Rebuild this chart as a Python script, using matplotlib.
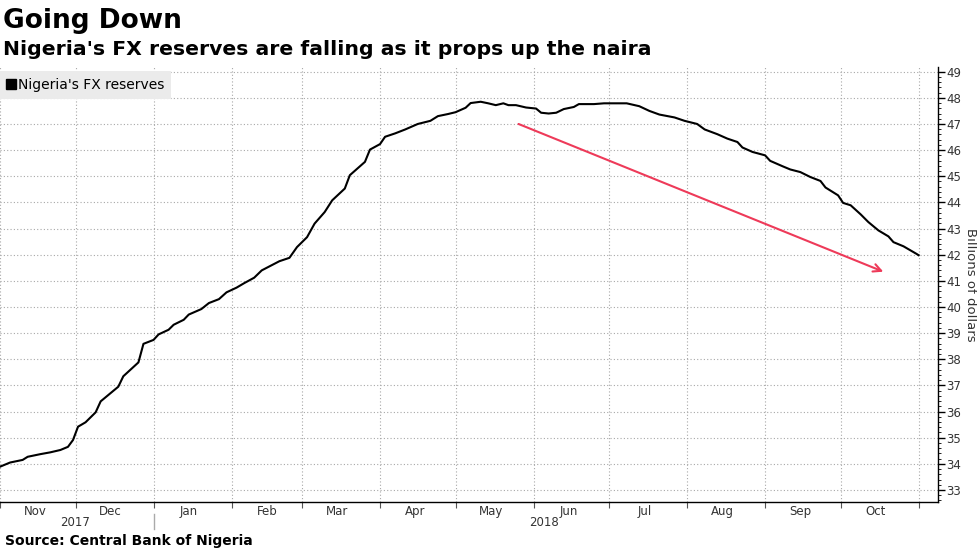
import numpy as np
import pandas as pd
import matplotlib
matplotlib.use('Agg')
import matplotlib.pyplot as plt
import matplotlib.dates as mdates
from matplotlib.lines import Line2D

# Nigeria's FX reserves, billions of dollars
dates = [
    '2017-11-01', '2017-11-05', '2017-11-10', '2017-11-12', '2017-11-17',
    '2017-11-21', '2017-11-25', '2017-11-28', '2017-11-30',
    '2017-12-02', '2017-12-05', '2017-12-09', '2017-12-11', '2017-12-18',
    '2017-12-20', '2017-12-26', '2017-12-28',
    '2018-01-01', '2018-01-03', '2018-01-07', '2018-01-09', '2018-01-13',
    '2018-01-15', '2018-01-20', '2018-01-23', '2018-01-27', '2018-01-30',
    '2018-02-03', '2018-02-06', '2018-02-10', '2018-02-13', '2018-02-16',
    '2018-02-20', '2018-02-24', '2018-02-27',
    '2018-03-03', '2018-03-06', '2018-03-10', '2018-03-13', '2018-03-18',
    '2018-03-20', '2018-03-26', '2018-03-28',
    '2018-04-01', '2018-04-03', '2018-04-07', '2018-04-11', '2018-04-16',
    '2018-04-21', '2018-04-24', '2018-04-28',
    '2018-05-01', '2018-05-05', '2018-05-07', '2018-05-11', '2018-05-14',
    '2018-05-17', '2018-05-20', '2018-05-22', '2018-05-25', '2018-05-29',
    '2018-06-02', '2018-06-04', '2018-06-07', '2018-06-10', '2018-06-13',
    '2018-06-17', '2018-06-19', '2018-06-25', '2018-06-29',
    '2018-07-08', '2018-07-13', '2018-07-17', '2018-07-21', '2018-07-27',
    '2018-07-31',
    '2018-08-05', '2018-08-08', '2018-08-13', '2018-08-17', '2018-08-21',
    '2018-08-23', '2018-08-27',
    '2018-09-01', '2018-09-03', '2018-09-08', '2018-09-11', '2018-09-15',
    '2018-09-19', '2018-09-23', '2018-09-25', '2018-09-30',
    '2018-10-02', '2018-10-05', '2018-10-09', '2018-10-12', '2018-10-16',
    '2018-10-20', '2018-10-22', '2018-10-26', '2018-10-31', '2018-11-01',
]
reserves = [
    33.89, 34.05, 34.15, 34.27, 34.37, 34.44, 34.53, 34.65, 34.91,
    35.42, 35.59, 35.97, 36.39, 36.95, 37.35, 37.88, 38.59,
    38.74, 38.95, 39.13, 39.32, 39.51, 39.71, 39.92, 40.15, 40.30, 40.56,
    40.74, 40.91, 41.12, 41.40, 41.55, 41.75, 41.88, 42.29,
    42.67, 43.19, 43.63, 44.08, 44.53, 45.04, 45.55, 46.02,
    46.23, 46.51, 46.64, 46.79, 47.00, 47.12, 47.30, 47.38,
    47.45, 47.62, 47.80, 47.85, 47.79, 47.72, 47.79, 47.72, 47.72, 47.63,
    47.59, 47.43, 47.40, 47.43, 47.57, 47.65, 47.76, 47.76, 47.79,
    47.79, 47.68, 47.50, 47.36, 47.25, 47.12,
    47.00, 46.79, 46.61, 46.44, 46.31, 46.10, 45.93,
    45.80, 45.59, 45.38, 45.26, 45.16, 44.97, 44.82, 44.57, 44.27,
    43.98, 43.89, 43.54, 43.25, 42.93, 42.70, 42.48, 42.32, 42.04, 41.98,
]
dates = pd.to_datetime(dates)

arrow_start = (pd.Timestamp('2018-05-25'), 47.04)
arrow_end = (pd.Timestamp('2018-10-19'), 41.31)

red = '#ee3a59'
grid_col = '#a8a8a8'
txt_col = '#333333'

fig = plt.figure(figsize=(9.77, 5.49), dpi=100)
ax = fig.add_axes([0.0, 0.0856, 0.96, 0.7924])

ax.plot(dates, reserves, color='black', lw=1.5, solid_joinstyle='round')
ax.annotate('', xy=arrow_end, xytext=arrow_start,
	arrowprops=dict(arrowstyle='->', color=red, lw=1.5, mutation_scale=14))

ax.set_xlim(pd.Timestamp('2017-11-01'), pd.Timestamp('2018-11-08 16:00'))
ax.set_ylim(32.54, 49.18)

# x axis: gridlines at month starts, labels mid-month
ax.xaxis.set_major_locator(mdates.MonthLocator())
ax.xaxis.set_major_formatter(plt.NullFormatter())
ax.xaxis.set_minor_locator(mdates.MonthLocator(bymonthday=15))
ax.xaxis.set_minor_formatter(mdates.DateFormatter('%b'))
ax.tick_params(axis='x', which='major', direction='out', length=4,
	width=0.8, color='#555555')
ax.tick_params(axis='x', which='minor', length=0, labelsize=8.5,
	labelcolor=txt_col, pad=2)

# y axis on the right
ax.yaxis.tick_right()
ax.yaxis.set_label_position('right')
ax.set_yticks(np.arange(33, 50, 1))
ax.set_yticks(np.arange(32.6, 49.2, 0.2), minor=True)
ax.tick_params(axis='y', which='major', direction='out', length=5,
	width=1.0, labelsize=8.5, labelcolor=txt_col, pad=1)
ax.tick_params(axis='y', which='minor', direction='out', length=2.5,
	width=0.6)
ax.set_ylabel('Billions of dollars', rotation=270, labelpad=11,
	fontsize=9.5, color=txt_col)

for s in ['left', 'top']:
	ax.spines[s].set_visible(False)
ax.spines['right'].set_linewidth(1.0)
ax.spines['bottom'].set_linewidth(1.0)

ax.grid(True, which='major', color=grid_col, linestyle=(0, (1, 2)), lw=0.8)
ax.set_axisbelow(True)

# year labels below the months
trans = ax.get_xaxis_transform()
ax.text(pd.Timestamp('2017-12-01'), -0.048, '2017', transform=trans,
	ha='center', va='center', fontsize=8.5, color=txt_col)
ax.text(pd.Timestamp('2018-06-05'), -0.048, '2018', transform=trans,
	ha='center', va='center', fontsize=8.5, color=txt_col)
ax.plot([pd.Timestamp('2018-01-01')] * 2, [-0.028, -0.062], transform=trans,
	color='#aaaaaa', lw=1, clip_on=False)

# legend
handle = Line2D([], [], marker='s', color='black', linestyle='None',
	markersize=7)
leg = ax.legend([handle], ["Nigeria's FX reserves"], loc='upper left',
	bbox_to_anchor=(0.0, 0.99), frameon=True, fancybox=False,
	fontsize=10, handlelength=0.6, handletextpad=0.2,
	borderpad=0.5, borderaxespad=0.0)
leg.get_frame().set_facecolor('#ebebeb')
leg.get_frame().set_edgecolor('none')
leg.get_frame().set_alpha(1)

fig.text(0.003, 0.949, 'Going Down', fontsize=19, fontweight='bold',
	va='baseline')
fig.text(0.003, 0.900, "Nigeria's FX reserves are falling as it props up the naira",
	fontsize=14.7, fontweight='bold', va='baseline')
fig.text(0.005, 0.008, 'Source: Central Bank of Nigeria', fontsize=10,
	fontweight='bold', va='baseline')

plt.savefig('out.png', dpi=100)
